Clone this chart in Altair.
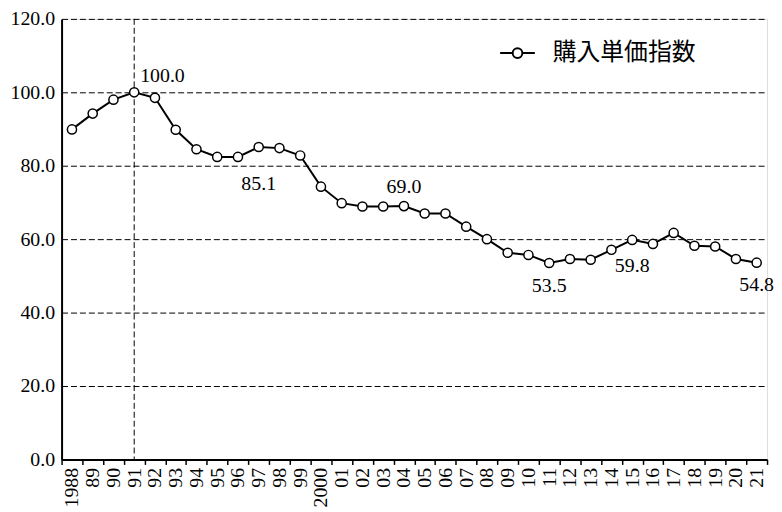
import altair as alt
import pandas as pd

years = ["1988", "89", "90", "91", "92", "93", "94", "95", "96", "97", "98", "99",
         "2000", "01", "02", "03", "04", "05", "06", "07", "08", "09", "10", "11",
         "12", "13", "14", "15", "16", "17", "18", "19", "20", "21"]
values = [89.9, 94.2, 98.0, 100.0, 98.5, 89.8, 84.5, 82.4, 82.4, 85.1, 84.8, 82.8,
          74.3, 69.8, 68.9, 68.9, 69.0, 67.0, 67.0, 63.4, 60.0, 56.3, 55.7, 53.5,
          54.6, 54.4, 57.1, 59.8, 58.7, 61.7, 58.2, 58.0, 54.6, 53.6]
series_name = "購入単価指数"

label_years = ["91", "97", "04", "11", "15", "21"]
label_texts = ["100.0", "85.1", "69.0", "53.5", "59.8", "54.8"]

ref_year = "91"

df = pd.DataFrame({"year": years, "value": values, "series": series_name})
lab_df = pd.DataFrame({"year": label_years, "text": label_texts})
lab_df = lab_df.merge(df[["year", "value"]], on="year")

SERIF = "Liberation Serif"
CJK = "Noto Sans CJK JP"

xscale = alt.Scale(domain=years, paddingInner=0, paddingOuter=0)
yscale = alt.Scale(domain=[0, 120], nice=False, zero=True)

x_enc = alt.X("year:N", sort=years, scale=xscale,
              axis=alt.Axis(title=None, labelAngle=270, labelAlign="right",
                            labelBaseline="middle", labelFont=SERIF, labelFontSize=20,
                            labelColor="black", labelPadding=3, tickBand="extent",
                            ticks=True, tickSize=5, tickColor="black", tickWidth=1.5,
                            domainColor="black", domainWidth=2, grid=False))
y_enc = alt.Y("value:Q", scale=yscale,
              axis=alt.Axis(title=None, values=[0, 20, 40, 60, 80, 100, 120], format=".1f",
                            labelFont=SERIF, labelFontSize=20, labelColor="black",
                            ticks=False, labelPadding=7, domainColor="black", domainWidth=2,
                            grid=True, gridDash=[6, 3], gridColor="black", gridWidth=1,
                            minExtent=54, maxExtent=54))

base = alt.Chart(df)

# line through a hollow circle, drawn inside the unit square
legend_path = ("M-1,0 L-0.28,0 M0.28,0 L1,0 "
               "M0.28,0 A0.28,0.28 0 1 0 -0.28,0 A0.28,0.28 0 1 0 0.28,0 Z")

line = base.mark_line(strokeWidth=2).encode(
    x=x_enc, y=y_enc,
    color=alt.Color("series:N", scale=alt.Scale(range=["black"]),
                    legend=alt.Legend(title=None, orient="none", legendX=441, legendY=16,
                                      symbolType=legend_path, symbolSize=1225,
                                      symbolFillColor="white", symbolStrokeColor="black",
                                      symbolStrokeWidth=2, labelFont=CJK, labelFontSize=24,
                                      labelColor="black", labelOffset=17, padding=0)),
)
points = base.mark_point(filled=True, fill="white", stroke="black", strokeWidth=1.5,
                         size=85, opacity=1).encode(x="year:N", y="value:Q")

vrule = alt.Chart(pd.DataFrame({"year": [ref_year]})).mark_rule(
    color="black", strokeDash=[6, 3], strokeWidth=1).encode(
    x="year:N", y=alt.value(0), y2=alt.value(444))

styles = {
    "91": dict(dx=6, dy=-16, align="left"),
    "97": dict(dx=0, dy=37, align="center"),
    "04": dict(dx=0, dy=-19, align="center"),
    "11": dict(dx=0, dy=23, align="center"),
    "15": dict(dx=0, dy=26, align="center"),
    "21": dict(dx=0, dy=23, align="center"),
}
text_layers = []
for yr in label_years:
    st = styles[yr]
    text_layers.append(
        alt.Chart(lab_df).transform_filter(alt.datum.year == yr).mark_text(
            font=SERIF, fontSize=20, color="black", baseline="middle", **st
        ).encode(x="year:N", y="value:Q", text="text:N")
    )

chart = alt.layer(vrule, line, points, *text_layers).properties(
    width=711, height=444,
    autosize=alt.AutoSizeParams(type="none"),
    padding={"left": 54, "top": 9, "right": 7, "bottom": 50},
).configure_view(stroke=None).configure(background="white")

chart.save("out.html", embed_options={"renderer": "svg", "actions": False})
